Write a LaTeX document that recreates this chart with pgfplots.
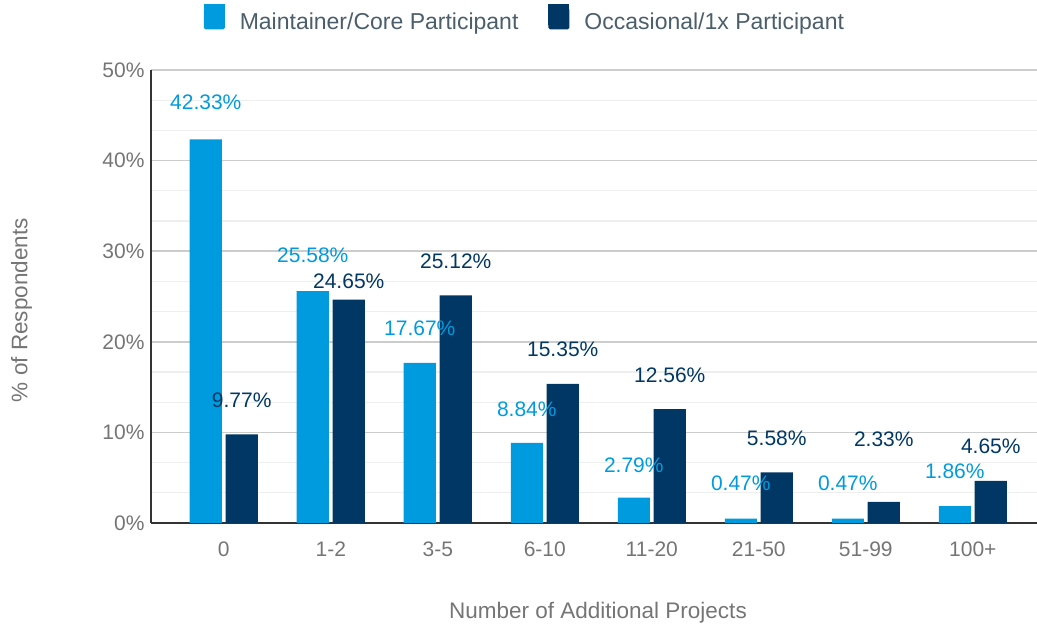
\documentclass[border=0pt]{standalone}
\usepackage{pgfplots}
\pgfplotsset{compat=1.18}
\usepackage{pgfplotstable}
\usepackage{fontspec}
\setmainfont{Liberation Sans}

\definecolor{core}{HTML}{009BDE}
\definecolor{occ}{HTML}{003764}
\definecolor{tickgray}{HTML}{757575}
\definecolor{leggray}{HTML}{4B5E6B}
\definecolor{majgrid}{HTML}{CCCCCC}
\definecolor{mingrid}{HTML}{EEEEEE}
\definecolor{axisdark}{HTML}{333333}

% values and label heights (lcore/locc = where the label sits)
\pgfplotstableread{
x core  occ   lcore locc
0 42.33 9.77  46.4  13.6
1 25.58 24.65 29.5  26.7
2 17.67 25.12 21.5  28.9
3 8.84  15.35 12.5  19.2
4 2.79  12.56 6.4   16.3
5 0.47  5.58  4.4   9.4
6 0.47  2.33  4.4   9.2
7 1.86  4.65  5.7   8.5
}\data

\begin{document}
\begin{tikzpicture}
\useasboundingbox (0pt,0pt) rectangle (1037pt,624pt);
\begin{axis}[
  at={(151pt,101pt)}, anchor=south west,
  scale only axis, width=886pt, height=453pt,
  xmin=-0.68, xmax=7.6, ymin=0, ymax=50,
  axis lines*=left,
  axis line style={draw=axisdark, line width=1.5pt},
  xtick={0,...,7},
  xticklabels={0,1-2,3-5,6-10,11-20,21-50,51-99,100+},
  ytick={0,10,...,50},
  yticklabels={0\%,10\%,20\%,30\%,40\%,50\%},
  minor y tick num=2,
  major tick length=0pt, minor tick length=0pt,
  ymajorgrids, yminorgrids,
  major grid style={draw=majgrid, line width=1.5pt},
  minor grid style={draw=mingrid, line width=1.2pt},
  tick label style={font=\fontsize{21}{25}\selectfont, text=tickgray},
  xticklabel style={yshift=-15pt},
  yticklabel style={xshift=-3pt},
  xlabel={Number of Additional Projects},
  ylabel={\% of Respondents},
  label style={font=\fontsize{22.5}{27}\selectfont, text=tickgray},
  xlabel style={at={(axis description cs:0.5045,-0.199)}, anchor=center},
  ylabel style={at={(axis description cs:-0.146,0.47)}, anchor=center},
  legend columns=2,
  legend style={at={(axis description cs:0.422,1.113)}, anchor=center,
    draw=none, fill=none, font=\fontsize{23}{27}\selectfont, text=leggray,
    /tikz/every odd column/.append style={column sep=13pt},
    /tikz/every even column/.append style={column sep=28pt}},
  legend image code/.code={%
    \path (0pt,-3pt) rectangle (21pt,18pt);
    \fill[#1, draw=none, rounded corners=1.5pt, overlay] (0pt,-7pt) rectangle (21pt,14pt);},
]
\addplot[ybar, bar width=0.30, bar shift=-0.168, fill=core, draw=none]
  table[x=x, y=core] {\data};
\addlegendentry{Maintainer/Core Participant}
\addplot[ybar, bar width=0.30, bar shift=0.168, fill=occ, draw=none]
  table[x=x, y=occ] {\data};
\addlegendentry{Occasional/1x Participant}

\addplot[forget plot, draw=none, point meta=explicit symbolic,
  nodes near coords={\pgfplotspointmeta\%},
  every node near coord/.append style={anchor=center, text=core, font=\fontsize{21}{25}\selectfont}]
  table[x expr=\thisrow{x}-0.168, y=lcore, meta=core] {\data};
\addplot[forget plot, draw=none, point meta=explicit symbolic,
  nodes near coords={\pgfplotspointmeta\%},
  every node near coord/.append style={anchor=center, text=occ, font=\fontsize{21}{25}\selectfont}]
  table[x expr=\thisrow{x}+0.168, y=locc, meta=occ] {\data};
\end{axis}
\end{tikzpicture}
\end{document}
